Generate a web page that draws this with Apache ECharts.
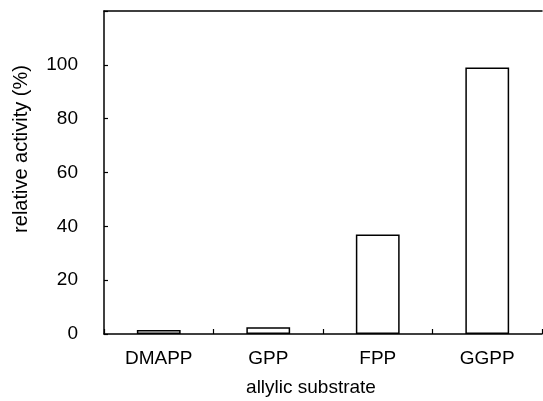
<!DOCTYPE html>
<html>
<head>
<meta charset="utf-8">
<script src="https://cdn.jsdelivr.net/npm/echarts@6/dist/echarts.min.js"></script>
<style>html,body{margin:0;padding:0;background:#fff}#c{width:543px;height:401px}</style>
</head>
<body>
<div id="c"></div>
<script>
const categories = ['DMAPP', 'GPP', 'FPP', 'GGPP'];
const activity = [1.5, 2.5, 37, 99];
const yTicks = [0, 20, 40, 60, 80, 100];
const xTitle = 'allylic substrate';
const yTitle = 'relative activity (%)';

const font = '"Liberation Sans", Arial, Helvetica, sans-serif';
const chart = echarts.init(document.getElementById('c'));
chart.setOption({
  animation: false,
  backgroundColor: '#fff',
  grid: { left: 104, right: 1, top: 11, bottom: 67 },
  xAxis: [{
    type: 'category',
    data: categories,
    axisLine: { show: true, lineStyle: { color: '#000', width: 1.5 } },
    axisTick: { show: true, inside: true, length: 5, lineStyle: { color: '#000', width: 1.2 } },
    axisLabel: { color: '#000', fontSize: 19, fontFamily: font, margin: 15 },
    splitLine: { show: false }
  }, {
    type: 'category',
    data: categories,
    position: 'top',
    axisLine: { show: true, lineStyle: { color: '#000', width: 1.5 } },
    axisTick: { show: false },
    axisLabel: { show: false },
    splitLine: { show: false }
  }],
  yAxis: {
    type: 'value',
    min: 0, max: 120, interval: 20,
    axisLine: { show: true, lineStyle: { color: '#000', width: 1.5 } },
    axisTick: { show: true, inside: true, length: 4, lineStyle: { color: '#000', width: 1.2 } },
    axisLabel: {
      color: '#000', fontSize: 19, fontFamily: font, margin: 26,
      formatter: v => yTicks.includes(v) ? String(v) : ''
    },
    splitLine: { show: false }
  },
  graphic: [
    { type: 'text', x: 311, y: 388, style: { text: xTitle, fontSize: 19, fontFamily: font, fill: '#000', align: 'center', verticalAlign: 'middle' } },
    { type: 'text', rotation: Math.PI / 2, x: 21, y: 149, style: { text: yTitle, fontSize: 20, fontFamily: font, fill: '#000', align: 'center', verticalAlign: 'middle' } }
  ],
  series: [{
    type: 'bar',
    data: activity,
    barWidth: '40%',
    itemStyle: { color: '#fff', borderColor: '#000', borderWidth: 1.5 }
  }]
});
</script>
</body>
</html>
